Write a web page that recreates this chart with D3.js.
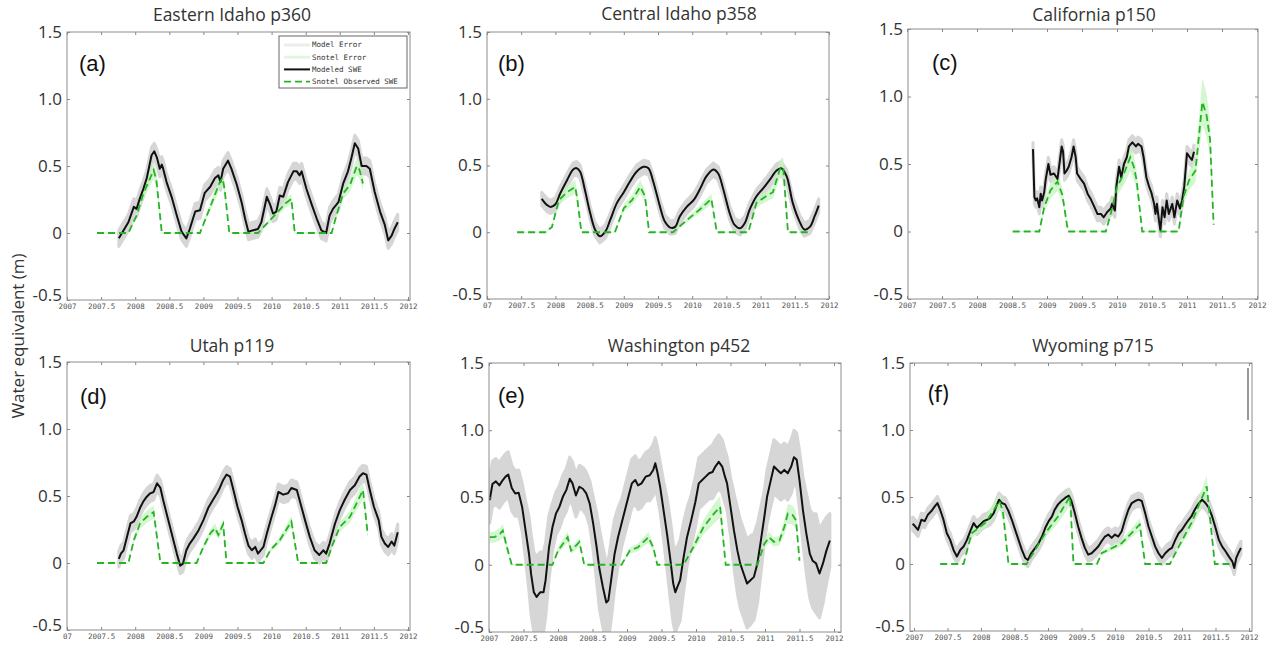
<!DOCTYPE html>
<meta charset="utf-8">
<head>
<script src="https://d3js.org/d3.v7.min.js"></script>
<style>
body { margin: 0; background: #fff; }
.title { font: 17.5px "Open Sans", sans-serif; fill: #333; }
.letter { font: 22px "Liberation Sans", Arial, sans-serif; fill: #111; }
.ylab { font: 17px "Open Sans", sans-serif; fill: #333; }
.xaxis text { font: 7.5px "DejaVu Sans Mono", monospace; fill: #555; }
.yaxis text { font: 17px "Open Sans", sans-serif; fill: #333; }
.tick line { stroke: #888; }
.legend text { font: 7.5px "DejaVu Sans Mono", monospace; fill: #333; }
</style>
</head>
<body>
<script>
// ---- data ----
const titles = ["Eastern Idaho p360", "Central Idaho p358", "California p150",
                "Utah p119", "Washington p452", "Wyoming p715"];
const letters = ["(a)", "(b)", "(c)", "(d)", "(e)", "(f)"];

const xTicks = [2007, 2007.5, 2008, 2008.5, 2009, 2009.5, 2010, 2010.5, 2011, 2011.5, 2012];
const xTickLabels = ["2007", "2007.5", "2008", "2008.5", "2009", "2009.5", "2010", "2010.5", "2011", "2011.5", "2012"];
const firstTickLabel = ["2007", "07", "2007", "07", "2007", "2007"];
const yTicks = [-0.5, 0, 0.5, 1.0, 1.5];
const yTickLabels = ["-0.5", "0", "0.5", "1.0", "1.5"];

const legendLabels = ["Model Error", "Snotel Error", "Modeled SWE", "Snotel Observed SWE"];

// modeled SWE [year, metres] (Washington also has its own error per point)
const aModel = [[2007.76,-0.04],[2007.83,0.02],[2007.90,0.08],[2007.98,0.195],[2008.02,0.18],[2008.07,0.26],[2008.12,0.33],[2008.17,0.41],[2008.24,0.58],[2008.28,0.61],[2008.32,0.56],[2008.36,0.48],[2008.39,0.51],[2008.41,0.48],[2008.46,0.38],[2008.54,0.26],[2008.61,0.13],[2008.68,0.01],[2008.75,-0.04],[2008.80,0.03],[2008.88,0.16],[2008.95,0.17],[2009.02,0.30],[2009.10,0.345],[2009.17,0.41],[2009.22,0.43],[2009.25,0.38],[2009.29,0.48],[2009.36,0.54],[2009.41,0.48],[2009.49,0.36],[2009.56,0.23],[2009.61,0.11],[2009.66,0.01],[2009.73,0.02],[2009.80,0.03],[2009.85,0.08],[2009.93,0.27],[2009.98,0.21],[2010.02,0.145],[2010.07,0.16],[2010.12,0.28],[2010.17,0.27],[2010.24,0.38],[2010.32,0.46],[2010.37,0.46],[2010.41,0.43],[2010.44,0.46],[2010.51,0.33],[2010.59,0.21],[2010.66,0.11],[2010.73,0.02],[2010.80,0.0],[2010.85,0.13],[2010.90,0.18],[2010.98,0.23],[2011.05,0.37],[2011.12,0.46],[2011.17,0.56],[2011.22,0.67],[2011.27,0.63],[2011.32,0.50],[2011.39,0.50],[2011.44,0.48],[2011.51,0.31],[2011.59,0.16],[2011.66,0.06],[2011.71,-0.055],[2011.76,-0.02],[2011.80,0.03],[2011.85,0.08]];
const bModel = [[2007.80,0.25],[2007.875,0.205],[2007.93,0.19],[2008.00,0.21],[2008.07,0.29],[2008.17,0.39],[2008.26,0.47],[2008.31,0.48],[2008.36,0.455],[2008.43,0.32],[2008.51,0.14],[2008.58,0.02],[2008.65,-0.03],[2008.73,0.005],[2008.80,0.09],[2008.90,0.22],[2009.00,0.30],[2009.09,0.38],[2009.19,0.455],[2009.29,0.49],[2009.36,0.48],[2009.43,0.38],[2009.53,0.19],[2009.60,0.08],[2009.68,0.035],[2009.75,0.04],[2009.82,0.12],[2009.92,0.19],[2010.02,0.24],[2010.11,0.32],[2010.21,0.42],[2010.31,0.47],[2010.38,0.44],[2010.45,0.33],[2010.55,0.14],[2010.62,0.055],[2010.70,0.03],[2010.77,0.07],[2010.84,0.17],[2010.94,0.27],[2011.04,0.33],[2011.13,0.39],[2011.23,0.46],[2011.30,0.48],[2011.38,0.42],[2011.47,0.22],[2011.57,0.08],[2011.64,0.02],[2011.72,0.04],[2011.79,0.12],[2011.85,0.20]];
const cModel = [[2008.80,0.61],[2008.82,0.255],[2008.84,0.23],[2008.86,0.245],[2008.89,0.18],[2008.91,0.28],[2008.93,0.23],[2008.96,0.29],[2008.98,0.38],[2009.02,0.50],[2009.05,0.42],[2009.10,0.43],[2009.15,0.39],[2009.19,0.55],[2009.21,0.63],[2009.23,0.59],[2009.25,0.43],[2009.28,0.45],[2009.31,0.48],[2009.35,0.55],[2009.38,0.63],[2009.41,0.55],[2009.43,0.43],[2009.48,0.39],[2009.53,0.355],[2009.58,0.28],[2009.62,0.245],[2009.67,0.19],[2009.72,0.13],[2009.77,0.13],[2009.81,0.105],[2009.86,0.145],[2009.91,0.17],[2009.93,0.205],[2009.97,0.155],[2009.99,0.33],[2010.03,0.48],[2010.06,0.40],[2010.10,0.50],[2010.14,0.55],[2010.17,0.63],[2010.22,0.66],[2010.27,0.63],[2010.30,0.65],[2010.35,0.63],[2010.38,0.55],[2010.42,0.40],[2010.46,0.33],[2010.49,0.29],[2010.53,0.205],[2010.55,0.13],[2010.57,0.205],[2010.60,0.08],[2010.62,0.01],[2010.65,0.18],[2010.68,0.105],[2010.71,0.23],[2010.74,0.13],[2010.79,0.205],[2010.82,0.105],[2010.86,0.23],[2010.90,0.17],[2010.93,0.23],[2010.96,0.33],[2011.00,0.58],[2011.04,0.55],[2011.07,0.53],[2011.10,0.59]];
const dModel = [[2007.76,0.03],[2007.79,0.07],[2007.83,0.095],[2007.88,0.195],[2007.93,0.295],[2007.98,0.31],[2008.02,0.345],[2008.07,0.41],[2008.12,0.46],[2008.17,0.495],[2008.22,0.52],[2008.27,0.53],[2008.32,0.595],[2008.37,0.56],[2008.41,0.47],[2008.46,0.37],[2008.51,0.27],[2008.56,0.17],[2008.61,0.07],[2008.66,-0.02],[2008.70,-0.005],[2008.75,0.095],[2008.80,0.145],[2008.85,0.18],[2008.93,0.245],[2009.00,0.32],[2009.07,0.41],[2009.15,0.48],[2009.20,0.52],[2009.24,0.56],[2009.29,0.62],[2009.34,0.66],[2009.39,0.645],[2009.44,0.545],[2009.50,0.42],[2009.56,0.32],[2009.61,0.22],[2009.66,0.13],[2009.71,0.095],[2009.76,0.12],[2009.80,0.07],[2009.88,0.12],[2009.93,0.22],[2010.00,0.345],[2010.05,0.43],[2010.10,0.53],[2010.17,0.51],[2010.24,0.52],[2010.29,0.56],[2010.37,0.545],[2010.41,0.47],[2010.49,0.32],[2010.56,0.195],[2010.63,0.095],[2010.70,0.06],[2010.76,0.095],[2010.80,0.07],[2010.85,0.145],[2010.93,0.295],[2011.00,0.395],[2011.07,0.47],[2011.15,0.545],[2011.22,0.58],[2011.29,0.645],[2011.34,0.67],[2011.39,0.66],[2011.44,0.545],[2011.50,0.42],[2011.57,0.32],[2011.61,0.195],[2011.66,0.145],[2011.71,0.12],[2011.76,0.16],[2011.80,0.13],[2011.85,0.23]];
const eModel = [[2007.01,0.48,0.17],[2007.05,0.60,0.17],[2007.10,0.62,0.17],[2007.15,0.59,0.17],[2007.20,0.63,0.17],[2007.24,0.655,0.17],[2007.28,0.67,0.17],[2007.33,0.57,0.17],[2007.38,0.53,0.17],[2007.43,0.535,0.17],[2007.48,0.43,0.18],[2007.53,0.255,0.22],[2007.58,0.08,0.28],[2007.61,-0.07,0.3],[2007.65,-0.205,0.3],[2007.69,-0.24,0.3],[2007.74,-0.205,0.3],[2007.79,-0.205,0.3],[2007.82,-0.115,0.28],[2007.87,0.13,0.24],[2007.92,0.28,0.18],[2007.97,0.38,0.16],[2008.02,0.43,0.16],[2008.07,0.505,0.16],[2008.12,0.555,0.16],[2008.17,0.64,0.16],[2008.21,0.605,0.16],[2008.26,0.515,0.16],[2008.31,0.58,0.16],[2008.36,0.565,0.16],[2008.41,0.53,0.16],[2008.46,0.455,0.17],[2008.51,0.305,0.2],[2008.56,0.13,0.26],[2008.60,-0.03,0.3],[2008.65,-0.165,0.3],[2008.70,-0.28,0.3],[2008.73,-0.265,0.3],[2008.77,-0.115,0.3],[2008.82,0.08,0.26],[2008.87,0.205,0.22],[2008.92,0.305,0.18],[2008.97,0.405,0.18],[2009.02,0.505,0.18],[2009.07,0.605,0.18],[2009.12,0.63,0.18],[2009.16,0.59,0.18],[2009.21,0.605,0.18],[2009.27,0.655,0.18],[2009.33,0.665,0.19],[2009.38,0.705,0.19],[2009.41,0.755,0.19],[2009.44,0.69,0.19],[2009.48,0.58,0.19],[2009.53,0.405,0.22],[2009.58,0.23,0.27],[2009.63,0.03,0.3],[2009.67,-0.14,0.3],[2009.70,-0.205,0.3],[2009.73,-0.165,0.3],[2009.77,-0.115,0.3],[2009.82,0.055,0.26],[2009.87,0.205,0.22],[2009.93,0.33,0.19],[2009.99,0.465,0.19],[2010.04,0.605,0.19],[2010.09,0.63,0.19],[2010.14,0.655,0.19],[2010.19,0.68,0.19],[2010.24,0.69,0.2],[2010.28,0.73,0.2],[2010.33,0.765,0.2],[2010.38,0.73,0.2],[2010.42,0.655,0.2],[2010.45,0.605,0.2],[2010.50,0.43,0.22],[2010.55,0.255,0.28],[2010.60,0.105,0.32],[2010.64,0.01,0.33],[2010.69,-0.065,0.33],[2010.74,-0.14,0.33],[2010.79,-0.115,0.33],[2010.84,-0.09,0.32],[2010.89,0.01,0.3],[2010.94,0.18,0.25],[2010.99,0.355,0.2],[2011.03,0.505,0.2],[2011.08,0.62,0.2],[2011.13,0.73,0.2],[2011.18,0.705,0.2],[2011.23,0.68,0.2],[2011.28,0.705,0.2],[2011.33,0.68,0.2],[2011.38,0.73,0.2],[2011.42,0.80,0.2],[2011.46,0.78,0.2],[2011.50,0.63,0.22],[2011.55,0.405,0.25],[2011.60,0.23,0.3],[2011.65,0.08,0.33],[2011.69,0.03,0.35],[2011.74,0.01,0.37],[2011.79,-0.065,0.33],[2011.84,0.01,0.3],[2011.89,0.105,0.25],[2011.94,0.18,0.2]];
const fModel = [[2006.98,0.30],[2007.01,0.285],[2007.06,0.255],[2007.11,0.33],[2007.16,0.32],[2007.21,0.37],[2007.26,0.395],[2007.31,0.43],[2007.35,0.455],[2007.39,0.405],[2007.44,0.33],[2007.49,0.23],[2007.54,0.18],[2007.59,0.105],[2007.64,0.055],[2007.69,0.105],[2007.74,0.13],[2007.79,0.18],[2007.84,0.245],[2007.89,0.305],[2007.94,0.27],[2007.99,0.295],[2008.04,0.32],[2008.09,0.33],[2008.14,0.345],[2008.19,0.38],[2008.24,0.445],[2008.27,0.48],[2008.31,0.455],[2008.36,0.445],[2008.41,0.395],[2008.46,0.33],[2008.51,0.255],[2008.56,0.18],[2008.61,0.105],[2008.66,0.045],[2008.70,0.03],[2008.75,0.08],[2008.81,0.12],[2008.86,0.155],[2008.91,0.205],[2008.96,0.27],[2009.01,0.32],[2009.06,0.355],[2009.10,0.405],[2009.15,0.445],[2009.20,0.47],[2009.26,0.495],[2009.31,0.51],[2009.35,0.47],[2009.40,0.38],[2009.45,0.28],[2009.50,0.195],[2009.55,0.12],[2009.60,0.07],[2009.65,0.08],[2009.70,0.105],[2009.75,0.13],[2009.80,0.17],[2009.85,0.205],[2009.90,0.22],[2009.95,0.195],[2010.00,0.22],[2010.05,0.205],[2010.10,0.245],[2010.15,0.33],[2010.20,0.405],[2010.25,0.455],[2010.30,0.47],[2010.35,0.48],[2010.40,0.47],[2010.45,0.38],[2010.50,0.28],[2010.55,0.205],[2010.60,0.13],[2010.65,0.08],[2010.70,0.045],[2010.75,0.08],[2010.80,0.105],[2010.85,0.12],[2010.90,0.18],[2010.95,0.23],[2011.00,0.255],[2011.05,0.295],[2011.10,0.33],[2011.14,0.355],[2011.19,0.405],[2011.24,0.445],[2011.30,0.48],[2011.35,0.455],[2011.40,0.42],[2011.45,0.355],[2011.50,0.27],[2011.55,0.18],[2011.60,0.13],[2011.65,0.095],[2011.70,0.055],[2011.75,0.02],[2011.78,-0.03],[2011.81,0.045],[2011.84,0.08],[2011.88,0.12]];

// snotel observed SWE [year, metres]
const aSnotel = [[2007.44,0],[2007.90,0],[2008.02,0.13],[2008.12,0.295],[2008.22,0.41],[2008.27,0.47],[2008.31,0.40],[2008.39,0],[2008.95,0],[2009.05,0.13],[2009.15,0.26],[2009.24,0.38],[2009.28,0.41],[2009.31,0.33],[2009.38,0],[2009.80,0],[2009.93,0.07],[2010.07,0.145],[2010.20,0.22],[2010.29,0.255],[2010.34,0],[2010.88,0],[2010.95,0.13],[2011.05,0.295],[2011.15,0.36],[2011.25,0.50],[2011.29,0.47],[2011.34,0.37]];
const bSnotel = [[2007.44,0],[2007.85,0],[2007.95,0.04],[2008.05,0.24],[2008.17,0.30],[2008.29,0.34],[2008.32,0.25],[2008.38,0],[2008.87,0],[2009.00,0.18],[2009.12,0.24],[2009.24,0.34],[2009.31,0.27],[2009.37,0],[2009.72,0],[2009.92,0.09],[2010.11,0.17],[2010.28,0.25],[2010.36,0],[2010.82,0],[2010.94,0.22],[2011.08,0.27],[2011.18,0.30],[2011.28,0.47],[2011.33,0.49],[2011.40,0],[2011.72,0]];
const cSnotel = [[2008.51,0],[2008.89,0],[2008.96,0.18],[2009.05,0.305],[2009.15,0.37],[2009.22,0.27],[2009.30,0],[2009.84,0],[2009.91,0.13],[2010.00,0.33],[2010.10,0.43],[2010.19,0.55],[2010.24,0.48],[2010.28,0.38],[2010.36,0],[2010.88,0],[2010.95,0.255],[2011.03,0.38],[2011.12,0.45],[2011.22,0.96],[2011.28,0.86],[2011.33,0.68],[2011.38,0.05]];
const dSnotel = [[2007.44,0],[2007.90,0],[2007.98,0.17],[2008.07,0.295],[2008.17,0.345],[2008.27,0.38],[2008.37,0],[2008.90,0],[2009.00,0.12],[2009.10,0.22],[2009.17,0.26],[2009.22,0.21],[2009.29,0.29],[2009.34,0],[2009.88,0],[2009.98,0.095],[2010.12,0.17],[2010.29,0.31],[2010.39,0],[2010.80,0],[2010.90,0.145],[2011.00,0.27],[2011.15,0.345],[2011.27,0.47],[2011.34,0.545],[2011.41,0.21]];
const eSnotel = [[2007.01,0.205],[2007.08,0.205],[2007.16,0.23],[2007.20,0.255],[2007.26,0.13],[2007.33,0],[2007.92,0],[2008.00,0.105],[2008.07,0.155],[2008.14,0.205],[2008.19,0.105],[2008.24,0.13],[2008.31,0.17],[2008.38,0],[2008.92,0],[2009.04,0.105],[2009.16,0.13],[2009.31,0.205],[2009.38,0.13],[2009.44,0],[2009.82,0],[2009.96,0.13],[2010.11,0.28],[2010.26,0.38],[2010.35,0.43],[2010.43,0],[2010.89,0],[2010.99,0.155],[2011.06,0.205],[2011.13,0.17],[2011.21,0.18],[2011.28,0.28],[2011.33,0.38],[2011.40,0.37],[2011.45,0.33],[2011.50,0.03]];
const fSnotel = [[2007.39,0],[2007.74,0],[2007.86,0.23],[2008.06,0.305],[2008.28,0.47],[2008.33,0.38],[2008.41,0],[2008.68,0],[2008.96,0.23],[2009.15,0.355],[2009.33,0.505],[2009.38,0],[2009.73,0],[2009.80,0.08],[2010.10,0.155],[2010.37,0.295],[2010.45,0],[2010.82,0],[2010.95,0.13],[2011.14,0.305],[2011.37,0.58],[2011.40,0.43],[2011.49,0],[2011.76,0]];

const models = [aModel, bModel, cModel, dModel, eModel, fModel];
const snotels = [aSnotel, bSnotel, cSnotel, dSnotel, eSnotel, fSnotel];
const modelErr = [0.06, 0.05, 0.05, 0.06, null, 0.05];   // null -> per point
const snotelErrFrac = [0.13, 0.14, 0.18, 0.12, 0.18, 0.13];

// ---- layout ----
const W = 1273, H = 648;
const layout = [
  {l: 67,  r: 410,  t: 32,  b: 300, x0: 67,  x1: 408,  tx: 232,  ty: 21,  lx: 79,  ly: 71},
  {l: 487, r: 829,  t: 32,  b: 299, x0: 487, x1: 829,  tx: 679,  ty: 20,  lx: 498, ly: 71},
  {l: 908, r: 1258, t: 29,  b: 299, x0: 907, x1: 1257, tx: 1094, ty: 21,  lx: 932, ly: 70},
  {l: 67,  r: 410,  t: 362, b: 630, x0: 67,  x1: 408,  tx: 232,  ty: 352, lx: 80,  ly: 404},
  {l: 489, r: 841,  t: 363, b: 632, x0: 489, x1: 834,  tx: 679,  ty: 352, lx: 498, ly: 403},
  {l: 910, r: 1252, t: 363, b: 631, x0: 914, x1: 1249, tx: 1093, ty: 352, lx: 928, ly: 402}
];

const svg = d3.select("body").append("svg")
  .attr("width", W).attr("height", H)
  .attr("viewBox", [0, 0, W, H]);

layout.forEach((L, i) => {
  const x = d3.scaleLinear().domain([2007, 2012]).range([L.x0, L.x1]);
  const y = d3.scaleLinear().domain([-0.5, 1.5]).range([L.b, L.t]);
  const g = svg.append("g");

  g.append("clipPath").attr("id", "clip" + i)
    .append("rect").attr("x", L.l).attr("y", L.t)
    .attr("width", L.r - L.l).attr("height", L.b - L.t);

  const plot = g.append("g").attr("clip-path", `url(#clip${i})`);
  const err = d => modelErr[i] == null ? d[2] : modelErr[i];

  // model error band
  plot.append("path")
    .datum(models[i])
    .attr("fill", "#d6d6d6")
    .attr("stroke", "#d6d6d6")
    .attr("stroke-width", 3)
    .attr("stroke-linejoin", "round")
    .attr("d", d3.area()
      .x(d => x(d[0]))
      .y0(d => y(d[1] - err(d)))
      .y1(d => y(d[1] + err(d))));

  // snotel error band
  const sErr = d => d[1] * snotelErrFrac[i] + 0.004;
  plot.append("path")
    .datum(snotels[i])
    .attr("fill", "#c4f4bd")
    .attr("fill-opacity", 0.75)
    .attr("d", d3.area()
      .x(d => x(d[0]))
      .y0(d => y(d[1] - sErr(d)))
      .y1(d => y(d[1] + sErr(d))));

  // modeled SWE
  plot.append("path")
    .datum(models[i])
    .attr("fill", "none")
    .attr("stroke", "#111")
    .attr("stroke-width", 2)
    .attr("stroke-linejoin", "round")
    .attr("d", d3.line()
      .curve(i === 1 ? d3.curveCatmullRom : d3.curveLinear)
      .x(d => x(d[0])).y(d => y(d[1])));

  // snotel observed SWE
  plot.append("path")
    .datum(snotels[i])
    .attr("fill", "none")
    .attr("stroke", "#27b327")
    .attr("stroke-width", 1.8)
    .attr("stroke-dasharray", "7,4")
    .attr("d", d3.line().x(d => x(d[0])).y(d => y(d[1])));

  // axes (ticks inward, no labels on top/right)
  g.append("g").attr("class", "xaxis")
    .attr("transform", `translate(0,${L.b})`)
    .call(d3.axisBottom(x).tickValues(xTicks).tickSizeInner(-3).tickSizeOuter(0).tickPadding(4)
      .tickFormat((d, j) => j === 0 ? firstTickLabel[i] : xTickLabels[j]))
    .call(a => a.select(".domain").remove());
  g.append("g")
    .attr("transform", `translate(0,${L.t})`)
    .call(d3.axisTop(x).tickValues(xTicks).tickSizeInner(-3).tickSizeOuter(0).tickFormat(""))
    .call(a => a.select(".domain").remove());
  g.append("g").attr("class", "yaxis")
    .attr("transform", `translate(${L.l},0)`)
    .call(d3.axisLeft(y).tickValues(yTicks).tickSizeInner(-3).tickSizeOuter(0).tickPadding(5)
      .tickFormat((d, j) => yTickLabels[j]))
    .call(a => a.select(".domain").remove())
    .call(a => a.selectAll(".tick text").filter(d => d === -0.5).attr("dy", "0em"));
  g.append("g")
    .attr("transform", `translate(${L.r},0)`)
    .call(d3.axisRight(y).tickValues(yTicks).tickSizeInner(-3).tickSizeOuter(0).tickFormat(""))
    .call(a => a.select(".domain").remove());

  g.append("rect")
    .attr("x", L.l).attr("y", L.t)
    .attr("width", L.r - L.l).attr("height", L.b - L.t)
    .attr("fill", "none").attr("stroke", "#8c8c8c");

  g.append("text").attr("class", "title")
    .attr("x", L.tx).attr("y", L.ty)
    .attr("text-anchor", "middle")
    .text(titles[i]);

  g.append("text").attr("class", "letter")
    .attr("x", L.lx).attr("y", L.ly)
    .style("font-family", i === 5 ? "Lato, sans-serif" : null)
    .style("font-size", i === 5 ? "24px" : null)
    .text(letters[i]);
});

// stray vertical mark in panel (f)
svg.append("line")
  .attr("x1", 1248).attr("x2", 1248).attr("y1", 368).attr("y2", 420)
  .attr("stroke", "#999").attr("stroke-width", 2);

// y label
svg.append("text").attr("class", "ylab")
  .attr("transform", "translate(24,336) rotate(-90)")
  .attr("text-anchor", "middle")
  .text("Water equivalent (m)");

// legend in panel (a)
const leg = svg.append("g").attr("class", "legend");
leg.append("rect")
  .attr("x", 279).attr("y", 36).attr("width", 128).attr("height", 52)
  .attr("fill", "#fff").attr("stroke", "#666");
const legStroke = ["#ececec", "#e2f7df", "#111", "#27b327"];
const legWidth = [3, 3, 2, 1.8];
const legDash = [null, null, null, "7,4"];
legendLabels.forEach((lab, k) => {
  const yy = 45 + k * 12.2;
  leg.append("line")
    .attr("x1", 284).attr("x2", 310).attr("y1", yy).attr("y2", yy)
    .attr("stroke", legStroke[k]).attr("stroke-width", legWidth[k])
    .attr("stroke-dasharray", legDash[k]);
  leg.append("text")
    .attr("x", 312).attr("y", yy).attr("dy", "0.33em")
    .text(lab);
});
</script>
</body>
